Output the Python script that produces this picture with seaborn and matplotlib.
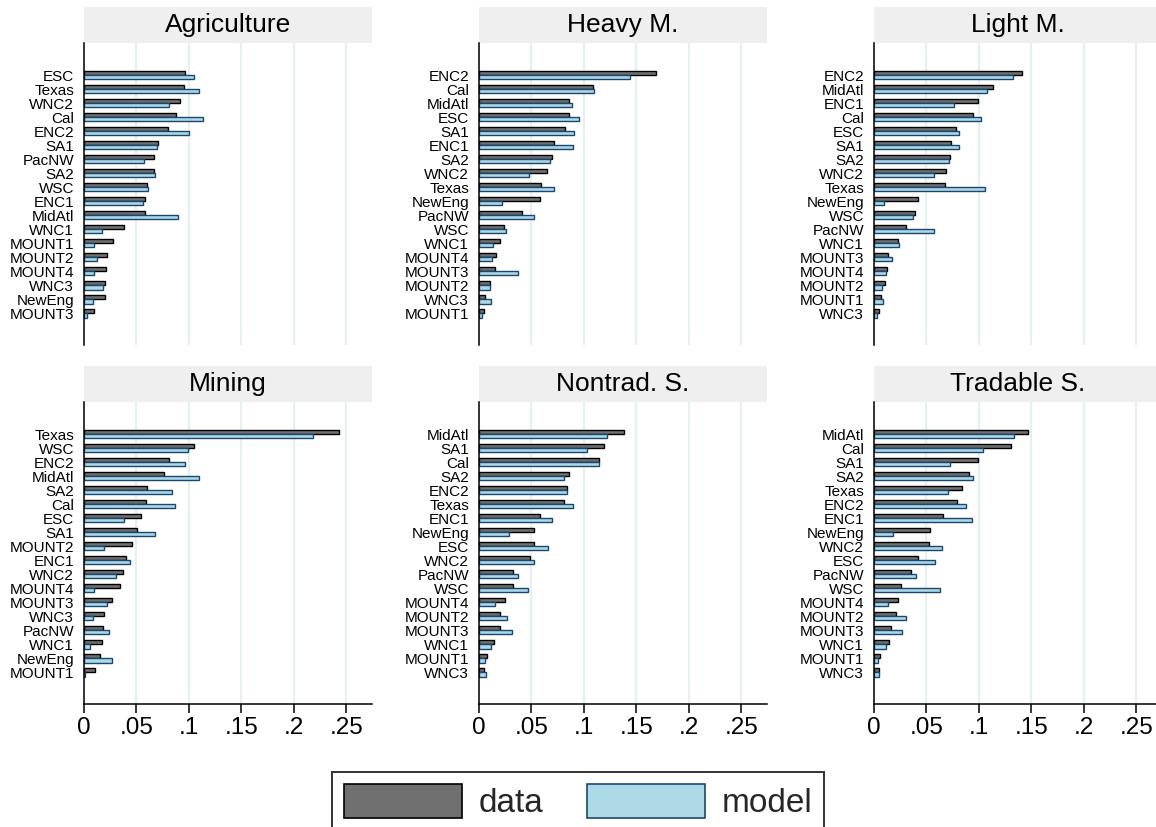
import pandas as pd
import matplotlib.pyplot as plt
import seaborn as sns
from matplotlib.patches import Rectangle, Patch

# Values (share of employment by region)
agri_regions = ["ESC", "Texas", "WNC2", "Cal", "ENC2", "SA1", "PacNW", "SA2", "WSC",
                "ENC1", "MidAtl", "WNC1", "MOUNT1", "MOUNT2", "MOUNT4", "WNC3", "NewEng", "MOUNT3"]
agri_data = [0.0965, 0.0956, 0.0914, 0.088, 0.080, 0.0708, 0.0667, 0.0667, 0.060,
             0.0584, 0.058, 0.038, 0.0273, 0.0219, 0.021, 0.020, 0.020, 0.0095]
agri_model = [0.105, 0.1095, 0.081, 0.113, 0.100, 0.0698, 0.057, 0.068, 0.061,
              0.0565, 0.090, 0.0175, 0.0092, 0.0124, 0.010, 0.0178, 0.0086, 0.003]

heavy_regions = ["ENC2", "Cal", "MidAtl", "ESC", "SA1", "ENC1", "SA2", "WNC2", "Texas",
                 "NewEng", "PacNW", "WSC", "WNC1", "MOUNT4", "MOUNT3", "MOUNT2", "WNC3", "MOUNT1"]
heavy_data = [0.169, 0.109, 0.0859, 0.0859, 0.082, 0.0712, 0.0697, 0.0652, 0.0595,
              0.0585, 0.0413, 0.0239, 0.0204, 0.0165, 0.0153, 0.0102, 0.006, 0.0048]
heavy_model = [0.1438, 0.1097, 0.0884, 0.0951, 0.0903, 0.0897, 0.068, 0.048, 0.0716,
               0.022, 0.0525, 0.0258, 0.0134, 0.0121, 0.0369, 0.0105, 0.0111, 0.0025]

light_regions = ["ENC2", "MidAtl", "ENC1", "Cal", "ESC", "SA1", "SA2", "WNC2", "Texas",
                 "NewEng", "WSC", "PacNW", "WNC1", "MOUNT3", "MOUNT4", "MOUNT2", "MOUNT1", "WNC3"]
light_data = [0.1414, 0.1134, 0.0991, 0.0947, 0.0785, 0.0737, 0.0727, 0.0686, 0.0677,
              0.0422, 0.0394, 0.0302, 0.0232, 0.0133, 0.0124, 0.0108, 0.0064, 0.0048]
light_model = [0.1325, 0.1077, 0.0762, 0.1017, 0.081, 0.081, 0.0715, 0.0572, 0.1058,
               0.0095, 0.0375, 0.0569, 0.0241, 0.0168, 0.0114, 0.0076, 0.0086, 0.0029]

mining_regions = ["Texas", "WSC", "ENC2", "MidAtl", "SA2", "Cal", "ESC", "SA1", "MOUNT2",
                  "ENC1", "WNC2", "MOUNT4", "MOUNT3", "WNC3", "PacNW", "WNC1", "NewEng", "MOUNT1"]
mining_data = [0.2429, 0.1048, 0.081, 0.0762, 0.060, 0.0594, 0.0543, 0.0505, 0.0454,
               0.040, 0.0371, 0.034, 0.0267, 0.0187, 0.0178, 0.0168, 0.0152, 0.0105]
mining_model = [0.2181, 0.0987, 0.0959, 0.1095, 0.0841, 0.0867, 0.038, 0.0679, 0.019,
                0.0435, 0.0302, 0.0092, 0.0222, 0.0089, 0.0238, 0.0057, 0.0267, 0.001]

nontrad_regions = ["MidAtl", "SA1", "Cal", "SA2", "ENC2", "Texas", "ENC1", "NewEng", "ESC",
                   "WNC2", "PacNW", "WSC", "MOUNT4", "MOUNT2", "MOUNT3", "WNC1", "MOUNT1", "WNC3"]
nontrad_data = [0.1384, 0.1196, 0.1139, 0.0856, 0.084, 0.0814, 0.0582, 0.0528, 0.0525,
                0.0483, 0.0328, 0.0324, 0.0251, 0.020, 0.020, 0.0146, 0.0076, 0.0048]
nontrad_model = [0.1218, 0.1034, 0.1145, 0.0808, 0.084, 0.0897, 0.0693, 0.0286, 0.0662,
                 0.0525, 0.0369, 0.0464, 0.0156, 0.0264, 0.0312, 0.0115, 0.0057, 0.0064]

trad_regions = ["MidAtl", "Cal", "SA1", "SA2", "Texas", "ENC2", "ENC1", "NewEng", "WNC2",
                "ESC", "PacNW", "WSC", "MOUNT4", "MOUNT2", "MOUNT3", "WNC1", "MOUNT1", "WNC3"]
trad_data = [0.1468, 0.1302, 0.0994, 0.0909, 0.0842, 0.0788, 0.0658, 0.0534, 0.0524,
             0.0419, 0.0356, 0.0257, 0.0229, 0.021, 0.0162, 0.0143, 0.0057, 0.0044]
trad_model = [0.1334, 0.1036, 0.0724, 0.0943, 0.0705, 0.0877, 0.0931, 0.0184, 0.0648,
              0.0578, 0.040, 0.0629, 0.0133, 0.0302, 0.027, 0.0111, 0.0041, 0.0044]

panels = [
    ("Agriculture", agri_regions, agri_data, agri_model),
    ("Heavy M.", heavy_regions, heavy_data, heavy_model),
    ("Light M.", light_regions, light_data, light_model),
    ("Mining", mining_regions, mining_data, mining_model),
    ("Nontrad. S.", nontrad_regions, nontrad_data, nontrad_model),
    ("Tradable S.", trad_regions, trad_data, trad_model),
]

xticks = [0, 0.05, 0.1, 0.15, 0.2, 0.25]
xtick_labels = ["0", ".05", ".1", ".15", ".2", ".25"]

sns.set_style("white")
plt.rcParams["font.family"] = ["Liberation Sans", "DejaVu Sans"]

fill_colors = ["#707070", "#add8e6"]
edge_colors = ["#000000", "#1a476f"]

W, H = 1156, 827
fig = plt.figure(figsize=(W / 100, H / 100), dpi=100)

col_left = [84, 479, 874]
row_top = [43, 402]
ax_w, ax_h = 288, 302

for i, (title, regions, d, m) in enumerate(panels):
    r, c = divmod(i, 3)
    ax = fig.add_axes([col_left[c] / W, 1 - (row_top[r] + ax_h) / H, ax_w / W, ax_h / H])

    df = pd.DataFrame({
        "region": regions * 2,
        "value": d + m,
        "series": ["data"] * len(regions) + ["model"] * len(regions),
    })
    sns.barplot(data=df, x="value", y="region", hue="series", hue_order=["data", "model"],
                palette=fill_colors, orient="h", width=0.6, saturation=1,
                legend=False, ax=ax)
    for cont, ec in zip(ax.containers, edge_colors):
        for p in cont:
            p.set_edgecolor(ec)
            p.set_linewidth(1.0)

    n = len(regions)
    ax.set_ylim(n + 1.26, -2.29)
    ax.set_xlim(0, 0.2745)
    ax.set_xticks(xticks)
    ax.grid(axis="x", color="#e6eff2", lw=1.6)
    ax.set_axisbelow(True)
    ax.set_xlabel("")
    ax.set_ylabel("")

    for s in ["top", "right"]:
        ax.spines[s].set_visible(False)
    ax.spines["left"].set_color("black")
    ax.spines["left"].set_linewidth(1.1)
    ax.tick_params(axis="y", length=0, pad=7, labelsize=11, colors="black")

    if r == 0:
        ax.spines["bottom"].set_visible(False)
        ax.tick_params(axis="x", length=0, labelbottom=False)
    else:
        ax.spines["bottom"].set_color("black")
        ax.spines["bottom"].set_linewidth(1.1)
        ax.set_xticklabels(xtick_labels)
        ax.tick_params(axis="x", length=6.5, width=1.1, pad=3, labelsize=17.5,
                       colors="black", bottom=True)

    # grey title band above each panel
    band = 36 / ax_h
    ax.add_patch(Rectangle((0, 1), 1, band, transform=ax.transAxes, clip_on=False,
                           facecolor="#efefef", edgecolor="none"))
    ax.text(0.5, 1 + band / 2, title, transform=ax.transAxes, ha="center", va="center",
            fontsize=19, color="black")

handles = [Patch(facecolor=fill_colors[0], edgecolor=edge_colors[0], lw=1.2, label="data"),
           Patch(facecolor=fill_colors[1], edgecolor=edge_colors[1], lw=1.2, label="model")]
leg = fig.legend(handles=handles, loc="upper center", bbox_to_anchor=(0.5, 1 - 772 / H),
                 ncol=2, fontsize=24, frameon=True, fancybox=False, edgecolor="black",
                 handlelength=3.55, handleheight=1.2, handletextpad=0.5, columnspacing=1.3,
                 borderpad=0.36, borderaxespad=0)
leg.get_frame().set_linewidth(1.4)

fig.savefig("out.png", dpi=100)
